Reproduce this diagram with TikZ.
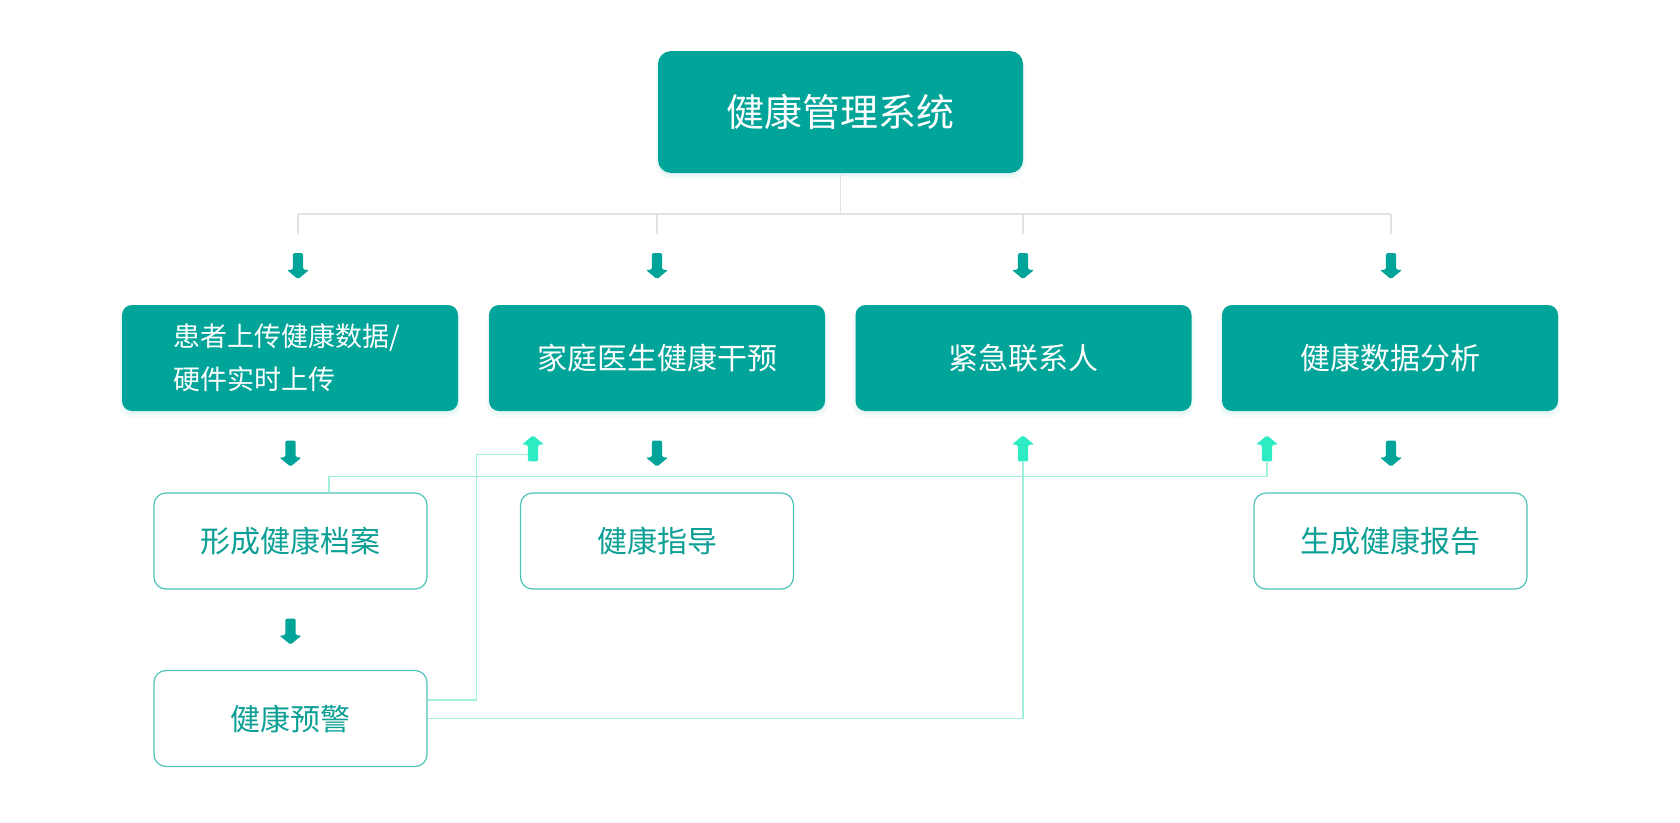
\documentclass[tikz,border=0pt]{standalone}
\usepackage{fontspec}
\newfontfamily\cjk{Noto Sans CJK SC}
\usetikzlibrary{shapes.arrows,shadows,calc}
\definecolor{tealfill}{HTML}{01A499}
\definecolor{tealtext}{HTML}{0C9F95}
\definecolor{tealedge}{HTML}{4CC3B7}
\definecolor{mint}{HTML}{2DEBC3}
\definecolor{mintline}{HTML}{A0F0DE}
\definecolor{treegray}{HTML}{E2E2E2}
\begin{document}
\begin{tikzpicture}[x=1pt,y=-1pt,
  glow/.style={general shadow={fill=tealfill,opacity=0.04,shadow yshift=-5pt,shadow scale=1.015},
               general shadow={fill=tealfill,opacity=0.06,shadow yshift=-2.5pt,shadow scale=1.005}},
  mainbox/.style={rectangle,rounded corners=13pt,fill=tealfill,text=white,glow,
                  minimum width=365pt,minimum height=122pt,font=\cjk\fontsize{38}{46}\selectfont},
  stagebox/.style={rectangle,rounded corners=10pt,fill=tealfill,text=white,glow,
                  minimum width=336pt,minimum height=106pt,font=\cjk\fontsize{30}{43}\selectfont},
  resultbox/.style={rectangle,rounded corners=12pt,draw=tealedge,line width=1.2pt,fill=white,text=tealtext,
                  minimum width=273pt,minimum height=96pt,font=\cjk\fontsize{30}{36}\selectfont},
  blockarr/.style={single arrow,draw=none,inner sep=5pt,minimum height=26pt,minimum width=22pt,
                  single arrow head extend=6pt,single arrow tip angle=100,rounded corners=1.5pt},
  downarr/.style={blockarr,fill=tealfill,shape border rotate=270},
  uparr/.style={blockarr,fill=mint,shape border rotate=90},
  tree/.style={draw=treegray,line width=1.5pt},
  link/.style={draw=mintline,line width=1.5pt}]
\useasboundingbox (0,0) rectangle (1680,822);
% boxes
\node[mainbox] (sys) at (840.5,112) {健康管理系统};
\node[stagebox,align=left,text width=234pt,font=\cjk\fontsize{27}{43}\selectfont] (upload) at (290,358) {患者上传健康数据/\\硬件实时上传};
\node[stagebox] (doctor) at (657,358) {家庭医生健康干预};
\node[stagebox] (contact) at (1023.5,358) {紧急联系人};
\node[stagebox] (analysis) at (1390,358) {健康数据分析};
\node[resultbox] (record) at (290.5,541) {形成健康档案};
\node[resultbox] (guide) at (657,541) {健康指导};
\node[resultbox] (report) at (1390.5,541) {生成健康报告};
\node[resultbox] (warning) at (290.5,718.5) {健康预警};
% arrows
\foreach \x/\n in {298/1,657/2,1023/3,1391/4}
  \node[downarr] (top\n) at (\x,264) {};
\node[downarr] (downA) at (290.5,451.5) {};
\node[downarr] (downB) at (657,451.5) {};
\node[downarr] (downD) at (1391,451.5) {};
\node[downarr] (downW) at (290.5,629.5) {};
\node[uparr] (upB) at (533,450.5) {};
\node[uparr] (upC) at (1023,450.5) {};
\node[uparr] (upD) at (1267,450.5) {};
% tree lines
\coordinate (fork) at (840.5,214);
\draw[tree] (sys.south) -- (fork);
\draw[tree] (fork -| top1) -- (fork -| top4);
\foreach \n in {1,...,4}
  \draw[tree] (fork -| top\n) -- ++(0,20);
% links
\draw[link] ($(record.north)+(38.5,0)$) -- ++(0,-16) -| (upD.tail);
\draw[link] ($(warning.east)+(0,-18.5)$) -- ++(49,0) |- ($(upB.tail)+(-5,-7)$);
\draw[link] (warning.east) -| (upC.tail);
\end{tikzpicture}
\end{document}
